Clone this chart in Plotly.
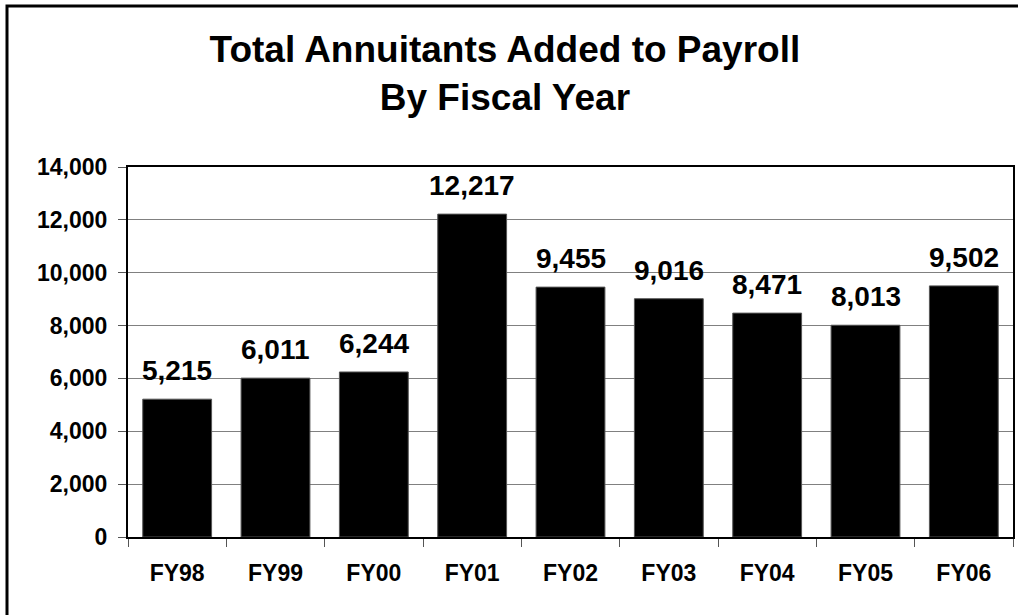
import plotly.graph_objects as go

# fiscal years and annuitants added
years = ["FY98", "FY99", "FY00", "FY01", "FY02", "FY03", "FY04", "FY05", "FY06"]
added = [5215, 6011, 6244, 12217, 9455, 9016, 8471, 8013, 9502]

y_ticks = [0, 2000, 4000, 6000, 8000, 10000, 12000, 14000]

fnt = "Arial, Liberation Sans, sans-serif"

fig = go.Figure()

fig.add_trace(go.Bar(
    x=years,
    y=added,
    width=0.7,
    marker=dict(color="black", line=dict(color="#555555", width=1)),
    hoverinfo="x+y",
))

# value labels above the bars
notes = []
for yr, v in zip(years, added):
    notes.append(dict(x=yr, y=v, text=format(v, ","),
                      showarrow=False, yanchor="bottom", yshift=11,
                      font=dict(family=fnt, size=28, color="black", weight="bold")))

# outer chart frame (cut off at right and bottom like the original)
pw, ph_ = 885.0, 370.0
frame = dict(type="rect", xref="paper", yref="paper",
             x0=(7 - 128) / pw, x1=(1060 - 128) / pw,
             y0=(537 - 660) / ph_, y1=(537 - 6) / ph_,
             line=dict(color="black", width=3), layer="below")

fig.update_layout(
    width=1018, height=615,
    margin=dict(l=128, r=5, t=167, b=78),
    paper_bgcolor="white",
    plot_bgcolor="white",
    showlegend=False,
    title=dict(text="Total Annuitants Added to Payroll<br>By Fiscal Year",
               x=0.496, xanchor="center", y=0.90, yanchor="middle",
               font=dict(family=fnt, size=37, color="black", weight="bold")),
    annotations=notes,
    shapes=[frame],
    bargap=0.3,
)

fig.update_xaxes(
    type="category",
    automargin=False,
    showline=True, linecolor="black", linewidth=2, mirror=True,
    ticks="outside", tickson="boundaries", ticklen=8, tickcolor="#555555",
    tickfont=dict(family=fnt, size=23, color="black", weight="bold"),
    ticklabelstandoff=14,
    showgrid=False,
)

fig.update_yaxes(
    range=[0, 14000],
    automargin=False,
    tickvals=y_ticks,
    tickformat=",",
    showline=True, linecolor="black", linewidth=2, mirror=True,
    ticks="outside", ticklen=8, tickcolor="#555555",
    tickfont=dict(family=fnt, size=23, color="black", weight="bold"),
    ticklabelstandoff=6,
    showgrid=True, gridcolor="#808080", gridwidth=1,
    zeroline=False,
)

fig.write_html("out.html", config={"displayModeBar": False},
               post_script="document.body.style.margin='0';document.body.style.overflow='hidden';")
